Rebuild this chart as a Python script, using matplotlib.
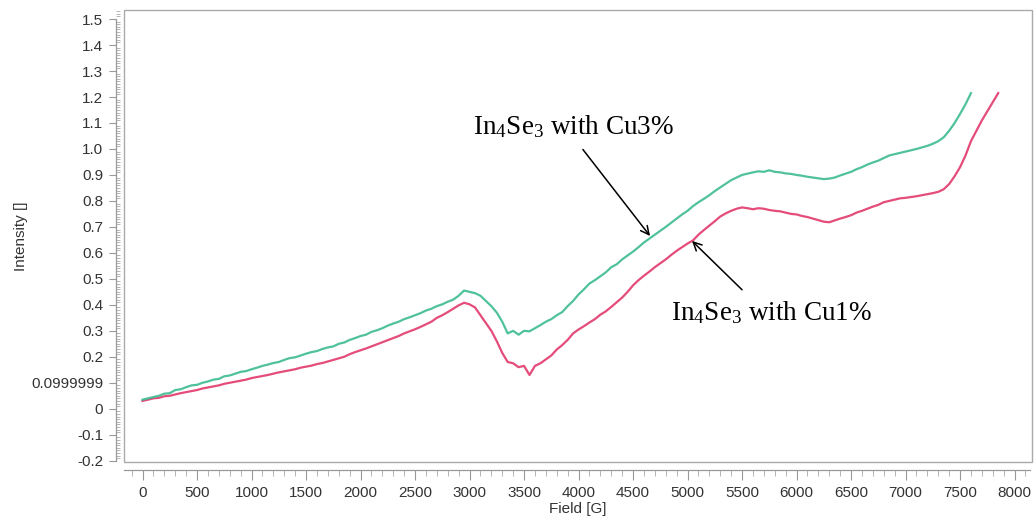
import numpy as np
import matplotlib
matplotlib.use("Agg")
import matplotlib.pyplot as plt
from matplotlib.patches import Rectangle
from matplotlib.ticker import MultipleLocator, FixedLocator

# ---- data ----
field_cu3 = list(range(0, 7601, 50))
intensity_cu3 = [
    0.035, 0.040, 0.045, 0.050, 0.058, 0.060, 0.072, 0.075, 0.083, 0.090,
    0.092, 0.100, 0.105, 0.112, 0.115, 0.125, 0.128, 0.135, 0.142, 0.145,
    0.152, 0.158, 0.165, 0.170, 0.176, 0.180, 0.188, 0.195, 0.198, 0.205,
    0.212, 0.218, 0.222, 0.230, 0.236, 0.240, 0.250, 0.255, 0.265, 0.272,
    0.280, 0.285, 0.296, 0.302, 0.310, 0.320, 0.328, 0.335, 0.345, 0.352,
    0.360, 0.368, 0.378, 0.385, 0.395, 0.402, 0.412, 0.420, 0.435, 0.455,
    0.450, 0.445, 0.435, 0.415, 0.395, 0.370, 0.335, 0.290, 0.300, 0.285,
    0.300, 0.298, 0.310, 0.322, 0.335, 0.345, 0.360, 0.372, 0.395, 0.415,
    0.440, 0.460, 0.482, 0.495, 0.510, 0.525, 0.545, 0.556, 0.575, 0.590,
    0.605, 0.622, 0.640, 0.655, 0.670, 0.685, 0.700, 0.716, 0.732, 0.748,
    0.762, 0.780, 0.795, 0.808, 0.822, 0.838, 0.852, 0.866, 0.880, 0.890,
    0.900, 0.905, 0.910, 0.914, 0.912, 0.918, 0.912, 0.910, 0.906, 0.904,
    0.900, 0.897, 0.893, 0.890, 0.887, 0.884, 0.886, 0.890, 0.898, 0.905,
    0.912, 0.922, 0.930, 0.940, 0.948, 0.955, 0.965, 0.975, 0.980, 0.985,
    0.990, 0.995, 1.000, 1.006, 1.012, 1.020, 1.030, 1.045, 1.070, 1.100,
    1.135, 1.172, 1.215,
]

field_cu1 = list(range(0, 7851, 50))
intensity_cu1 = [
    0.030, 0.035, 0.040, 0.042, 0.048, 0.050, 0.055, 0.060, 0.064, 0.068,
    0.072, 0.078, 0.082, 0.086, 0.090, 0.096, 0.100, 0.104, 0.108, 0.112,
    0.118, 0.122, 0.126, 0.130, 0.135, 0.140, 0.144, 0.148, 0.152, 0.158,
    0.162, 0.166, 0.172, 0.176, 0.182, 0.188, 0.194, 0.200, 0.210, 0.218,
    0.225, 0.232, 0.240, 0.248, 0.256, 0.264, 0.272, 0.280, 0.290, 0.298,
    0.306, 0.315, 0.325, 0.335, 0.350, 0.360, 0.372, 0.385, 0.398, 0.408,
    0.402, 0.390, 0.360, 0.330, 0.300, 0.260, 0.215, 0.180, 0.175, 0.160,
    0.165, 0.130, 0.165, 0.175, 0.190, 0.205, 0.228, 0.245, 0.265, 0.290,
    0.305, 0.318, 0.332, 0.345, 0.362, 0.375, 0.392, 0.410, 0.428, 0.450,
    0.475, 0.495, 0.512, 0.528, 0.545, 0.560, 0.575, 0.592, 0.608, 0.622,
    0.636, 0.648, 0.670, 0.688, 0.705, 0.722, 0.740, 0.752, 0.762, 0.770,
    0.775, 0.772, 0.768, 0.772, 0.770, 0.765, 0.762, 0.760, 0.755, 0.750,
    0.748, 0.742, 0.738, 0.732, 0.726, 0.720, 0.718, 0.725, 0.732, 0.738,
    0.745, 0.755, 0.762, 0.770, 0.778, 0.785, 0.795, 0.800, 0.805, 0.810,
    0.812, 0.815, 0.818, 0.822, 0.826, 0.830, 0.835, 0.845, 0.865, 0.895,
    0.930, 0.975, 1.030, 1.070, 1.110, 1.145, 1.180, 1.215,
]

y_ticks = [-0.2, -0.1, 0.0, 0.1, 0.2, 0.3, 0.4, 0.5, 0.6, 0.7, 0.8, 0.9,
           1.0, 1.1, 1.2, 1.3, 1.4, 1.5]
y_tick_labels = ['-0.2', '-0.1', '0', '0.0999999', '0.2', '0.3', '0.4', '0.5',
                 '0.6', '0.7', '0.8', '0.9', '1.0', '1.1', '1.2', '1.3', '1.4', '1.5']
x_ticks = list(range(0, 8001, 500))

label_cu3 = r"$\mathregular{In_4Se_3}$ with Cu3%"
label_cu1 = r"$\mathregular{In_4Se_3}$ with Cu1%"

# ---- figure ----
plt.rcParams['font.family'] = ['Liberation Sans', 'DejaVu Sans']
fig = plt.figure(figsize=(10.36, 5.18), dpi=100)
ax = fig.add_axes([124 / 1036, 56 / 518, 908 / 1036, 452 / 518])

green = '#3dbb92'
pink = '#e2386c'
ax.plot(field_cu1, intensity_cu1, color=pink, lw=1.6, alpha=0.9)
ax.plot(field_cu3, intensity_cu3, color=green, lw=1.6, alpha=0.9)

ax.set_xlim(-170, 8160)
ax.set_ylim(-0.205, 1.535)

# frame
ax.add_patch(Rectangle((0, 0), 1, 1, transform=ax.transAxes, fill=False,
                       edgecolor='#aaaaaa', lw=1.0, clip_on=False, zorder=0))
for s in ['top', 'right']:
    ax.spines[s].set_visible(False)
ax.spines['left'].set_position(('outward', 6))
ax.spines['bottom'].set_position(('outward', 6))
ax.spines['left'].set_bounds(-0.2, 1.5)
ax.spines['bottom'].set_bounds(-170, 8140)
for s in ['left', 'bottom']:
    ax.spines[s].set_color('#999999')
    ax.spines[s].set_linewidth(0.9)

ax.yaxis.set_major_locator(FixedLocator(y_ticks))
ax.set_yticklabels(y_tick_labels)
ax.yaxis.set_minor_locator(MultipleLocator(0.01))
ax.xaxis.set_major_locator(FixedLocator(x_ticks))
ax.xaxis.set_minor_locator(FixedLocator(list(range(-100, 8101, 100))))

ax.tick_params(axis='y', which='major', direction='out', length=5, width=0.8,
               color='#999999', labelsize=11, labelcolor='#333333', pad=4)
ax.tick_params(axis='y', which='minor', direction='in', length=3, width=0.6,
               color='#aaaaaa')
ax.tick_params(axis='x', which='major', direction='out', length=7, width=0.8,
               color='#999999', labelsize=11, labelcolor='#333333', pad=4)
ax.tick_params(axis='x', which='minor', direction='out', length=4, width=0.6,
               color='#aaaaaa')

ax.set_xlabel('Field [G]', fontsize=11, color='#333333', labelpad=2)
ax.set_ylabel('Intensity []', fontsize=11, color='#333333', labelpad=2)

# annotations
ax.text(3950, 1.085, label_cu3, ha='center', va='center', fontsize=19.5,
        family='Liberation Serif')
ax.text(5770, 0.37, label_cu1, ha='center', va='center', fontsize=19.5,
        family='Liberation Serif')
arrow = dict(arrowstyle='->', color='black', lw=1.1, shrinkA=0, shrinkB=0,
             mutation_scale=15)
ax.annotate('', xy=(4656, 0.665), xytext=(4040, 0.998), arrowprops=arrow)
ax.annotate('', xy=(5041, 0.646), xytext=(5500, 0.458), arrowprops=arrow)

fig.savefig('out.png', dpi=100, facecolor='white')
